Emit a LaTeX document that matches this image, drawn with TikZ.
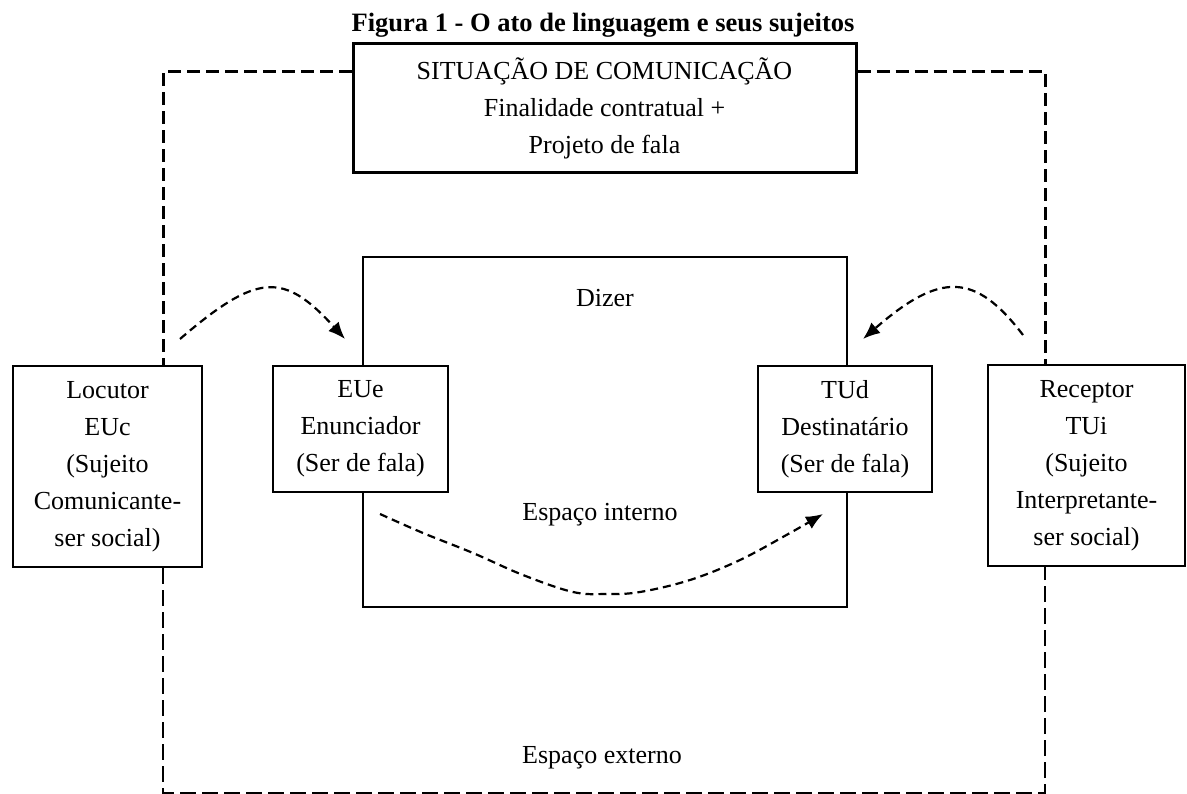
\documentclass[tikz,border=0pt]{standalone}
\usepackage{fontspec}
\setmainfont{Liberation Serif}
\usetikzlibrary{arrows.meta}
\begin{document}
\begin{tikzpicture}[x=1pt,y=-1pt,
  box/.style={draw, line width=2pt, inner sep=0pt, align=center, fill=white,
    font=\fontsize{26}{37}\selectfont},
  lbl/.style={inner sep=0pt, anchor=base, font=\fontsize{26}{37}\selectfont},
  outerA/.style={line width=3pt, dash pattern=on 13pt off 6pt},
  outerB/.style={line width=2pt, dash pattern=on 16pt off 6pt},
  arr/.style={line width=2.2pt, dash pattern=on 8pt off 5pt, -{Latex[length=17pt,width=14pt]}}
]
\useasboundingbox (0,0) rectangle (1187,794);

% title
\node[inner sep=0pt, anchor=base, font=\fontsize{26.5}{30}\selectfont\bfseries] (title) at (603,32)
  {Figura 1 - O ato de linguagem e seus sujeitos};

% top box
\node[box, line width=3pt, minimum width=503pt, minimum height=129pt] (top) at (604.5,108.5)
  {SITUAÇÃO DE COMUNICAÇÃO\\Finalidade contratual +\\Projeto de fala};

% inner box
\node[draw, line width=2pt, inner sep=0pt, minimum width=484pt, minimum height=350pt] (inner) at (605,432) {};

% side boxes
\node[box, minimum width=189pt, minimum height=201pt] (loc) at (107.5,466.5)
  {Locutor\\EUc\\(Sujeito\\Comunicante-\\ser social)};
\node[box, minimum width=197pt, minimum height=201pt] (rec) at (1086.5,465.5)
  {Receptor\\TUi\\(Sujeito\\Interpretante-\\ser social)};
\node[box, minimum width=175pt, minimum height=126pt] (eue) at (360.5,429)
  {EUe\\Enunciador\\(Ser de fala)};
\node[box, minimum width=174pt, minimum height=126pt] (tud) at (845,429)
  {TUd\\Destinatário\\(Ser de fala)};

% labels
\node[lbl] (dizer) at (605,307) {Dizer};
\node[lbl] (interno) at (600,520) {Espaço interno};
\node[lbl] (externo) at (602,763) {Espaço externo};

% outer dashed frame
\coordinate (tl) at (163,72);
\coordinate (tr) at (1045,72);
\coordinate (bl) at (163,793);
\coordinate (br) at (1045,793);
\draw[outerA] (top.west |- tl) -- (tl) -- (tl |- loc.north);
\draw[outerA] (top.east |- tr) -- (tr) -- (tr |- rec.north);
\draw[outerB] (bl |- loc.south) -- (bl) -- (br) -- (br |- rec.south);

% curved arrows
\coordinate (a1s) at (180,339);
\coordinate (a1e) at (345,339);
\draw[arr] (a1s) .. controls (258,272) and (284,272) .. (a1e);

\coordinate (a2s) at (1023,335);
\coordinate (a2e) at (863,339);
\draw[arr] (a2s) .. controls (975,272) and (940,272) .. (a2e);

\coordinate (a3s) at (380,514);
\coordinate (a3e) at (823,514);
\draw[arr] plot[smooth, tension=0.6] coordinates {(a3s) (423,533) (473,553) (523,575) (573,592) (607,594) (640,592) (690,580) (740,560) (790,533) (a3e)};
\end{tikzpicture}
\end{document}
